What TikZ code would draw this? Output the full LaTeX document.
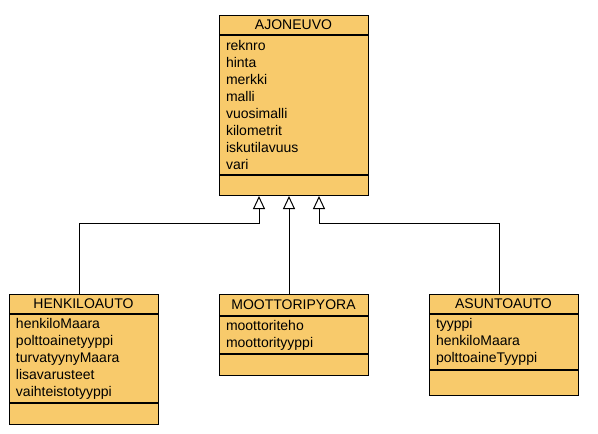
\documentclass[tikz,border=0pt]{standalone}
\usepackage{fontspec}
\setmainfont{Liberation Sans}
\usetikzlibrary{positioning,arrows.meta}

\definecolor{classfill}{HTML}{F8CA6B}

\tikzset{
  classhead/.style={draw, fill=classfill, line width=1pt, minimum width=149pt,
    minimum height=19pt, inner sep=0pt, font=\fontsize{14}{17}\selectfont},
  classattr/.style={draw, fill=classfill, line width=1pt, text width=135pt,
    inner xsep=7pt, inner ysep=0pt, align=left, font=\fontsize{14}{17}\selectfont},
  classops/.style={draw, fill=classfill, line width=1pt, minimum width=149pt,
    minimum height=20pt, inner sep=0pt},
  inherit/.style={line width=1pt, -{Triangle[open, width=12pt, length=13pt, line width=1pt]}}
}

\begin{document}
\begin{tikzpicture}[x=1pt, y=-1pt]
		\useasboundingbox (0,0) rectangle (598,434);

		% superclass
		\node[classhead, anchor=north] (ajoneuvo) at (293.5,15) {AJONEUVO};
		\node[classattr, minimum height=139pt, below=0pt of ajoneuvo] (ajoneuvo-attr)
			{reknro\\hinta\\merkki\\malli\\vuosimalli\\kilometrit\\iskutilavuus\\vari};
		\node[classops, below=0pt of ajoneuvo-attr] (ajoneuvo-ops) {};

		% subclasses
		\node[classhead, anchor=north] (henkiloauto) at (83.5,294) {HENKILOAUTO};
		\node[classattr, minimum height=88pt, below=0pt of henkiloauto] (henkiloauto-attr)
			{henkiloMaara\\polttoainetyyppi\\turvatyynyMaara\\lisavarusteet\\vaihteistotyyppi};
		\node[classops, minimum height=21pt, below=0pt of henkiloauto-attr] (henkiloauto-ops) {};

		\node[classhead, minimum height=21pt, anchor=north] (moottoripyora) at (293.5,294) {MOOTTORIPYORA};
		\node[classattr, minimum height=37pt, below=0pt of moottoripyora] (moottoripyora-attr)
			{moottoriteho\\moottorityyppi};
		\node[classops, minimum height=21pt, below=0pt of moottoripyora-attr] (moottoripyora-ops) {};

		\node[classhead, anchor=north] (asuntoauto) at (503.5,294) {ASUNTOAUTO};
		\node[classattr, minimum height=55pt, below=0pt of asuntoauto] (asuntoauto-attr)
			{tyyppi\\henkiloMaara\\polttoaineTyyppi};
		\node[classops, minimum height=25pt, below=0pt of asuntoauto-attr] (asuntoauto-ops) {};

		% generalisations
		\draw[inherit] ([xshift=-4.5pt]henkiloauto.north) -- ++(0,-71) -| ([xshift=-34.5pt]ajoneuvo-ops.south);
		\draw[inherit] ([xshift=-4.5pt]moottoripyora.north) -- ([xshift=-4.5pt]ajoneuvo-ops.south);
		\draw[inherit] ([xshift=-4.5pt]asuntoauto.north) -- ++(0,-71) -| ([xshift=25.5pt]ajoneuvo-ops.south);

	\end{tikzpicture}
\end{document}
